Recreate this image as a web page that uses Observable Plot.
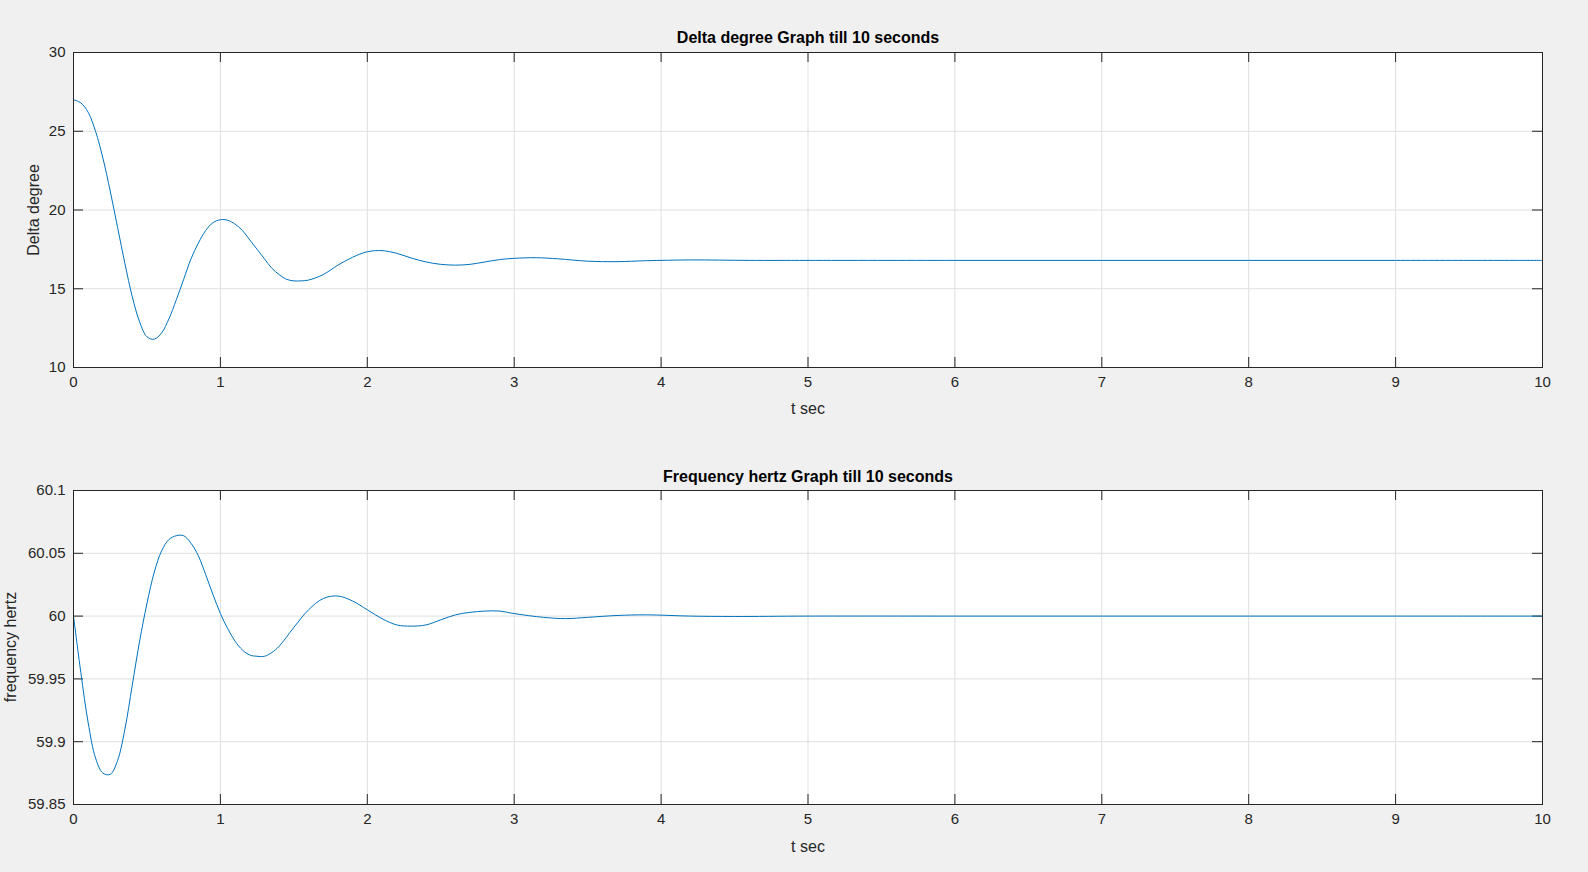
<!DOCTYPE html>
<html>
<head>
<meta charset="utf-8">
<script src="https://cdn.jsdelivr.net/npm/d3@7"></script>
<script src="https://cdn.jsdelivr.net/npm/@observablehq/plot@0.6"></script>
<style>
  html, body { margin: 0; background: #f0f0f0; font-family: "Liberation Sans", Arial, sans-serif; overflow: hidden; }
  #fig { position: relative; width: 1588px; height: 872px; overflow: hidden; }
  .panel { position: absolute; left: 0; width: 1588px; }
  .panel svg { max-width: none !important; width: 1588px; }
  .lbl { position: absolute; color: #262626; font-size: 16px; white-space: nowrap; }
  .ttl { position: absolute; color: #000; font-size: 16px; font-weight: bold; white-space: nowrap; }
</style>
</head>
<body>
<div id="fig"></div>
<script>
// delta degree vs time
const tDelta = [0,0.05,0.1,0.15,0.2,0.25,0.3,0.35,0.4,0.45,0.5,0.55,0.6,0.65,0.7,0.75,0.8,0.85,0.9,0.95,1.0,1.05,1.1,1.15,1.2,1.25,1.3,1.35,1.4,1.45,1.5,1.55,1.6,1.7,1.8,1.9,2.0,2.1,2.2,2.3,2.4,2.5,2.6,2.7,2.8,2.9,3.0,3.15,3.3,3.5,3.7,3.9,4.2,4.6,5,6,7,8,9,10];
const delta = [27.0,26.8,26.2,25.0,23.3,21.2,18.9,16.6,14.5,12.9,11.95,11.8,12.2,13.1,14.3,15.6,16.9,17.9,18.7,19.2,19.38,19.35,19.1,18.7,18.1,17.5,16.9,16.3,15.9,15.6,15.5,15.5,15.55,15.9,16.5,17.0,17.35,17.42,17.25,16.95,16.7,16.55,16.5,16.55,16.7,16.85,16.93,16.97,16.9,16.75,16.72,16.78,16.83,16.8,16.8,16.8,16.8,16.8,16.8,16.8];

// frequency hertz vs time
const tFreq = [0,0.05,0.1,0.15,0.2,0.25,0.3,0.35,0.4,0.45,0.5,0.55,0.6,0.65,0.7,0.75,0.8,0.85,0.9,0.95,1.0,1.05,1.1,1.15,1.2,1.25,1.3,1.35,1.4,1.5,1.6,1.7,1.8,1.9,2.0,2.1,2.2,2.3,2.4,2.5,2.6,2.7,2.8,2.9,3.0,3.2,3.35,3.5,3.7,3.9,4.2,4.5,5,6,7,8,9,10];
const freq = [60.0,59.955,59.915,59.887,59.875,59.874,59.885,59.91,59.945,59.98,60.01,60.035,60.052,60.061,60.064,60.064,60.058,60.048,60.033,60.017,60.002,59.99,59.98,59.973,59.969,59.968,59.968,59.971,59.976,59.991,60.005,60.014,60.016,60.012,60.005,59.998,59.993,59.992,59.993,59.997,60.001,60.003,60.004,60.004,60.002,59.999,59.998,59.999,60.0005,60.001,60.0,59.9997,60,60,60,60,60,60];

const xTicks = d3.range(0, 11);
const deltaTicks = [10, 15, 20, 25, 30];
const freqTicks = [59.85, 59.9, 59.95, 60, 60.05, 60.1];
const freqTickLabels = ["59.85", "59.9", "59.95", "60", "60.05", "60.1"];

const fig = d3.select("#fig");
const W = 1588, mL = 73, mR = 46;

function panel(tArr, vArr, yDomain, yTicks, yFmt, top, height, mT, mB) {
  const data = tArr.map((t, i) => ({t, v: vArr[i]}));
  const innerH = height - mT - mB, innerW = W - mL - mR;
  const chart = Plot.plot({
    width: W, height, marginLeft: mL, marginRight: mR, marginTop: mT, marginBottom: mB,
    style: {background: "transparent", fontFamily: "Liberation Sans, Arial, sans-serif", fontSize: "15px", color: "#262626"},
    x: {domain: [0, 10], ticks: xTicks, tickSize: 0, tickPadding: 9, label: null},
    y: {domain: yDomain, ticks: yTicks, tickFormat: yFmt, tickSize: 0, tickPadding: 8, label: null},
    marks: [
      Plot.frame({fill: "white"}),
      Plot.gridX(xTicks, {stroke: "#dfdfdf", strokeOpacity: 1}),
      Plot.gridY(yTicks, {stroke: "#dfdfdf", strokeOpacity: 1}),
      Plot.ruleX(xTicks, {stroke: "#262626", insetTop: innerH - 10}),
      Plot.ruleX(xTicks, {stroke: "#262626", insetBottom: innerH - 10}),
      Plot.ruleY(yTicks, {stroke: "#262626", insetRight: innerW - 10}),
      Plot.ruleY(yTicks, {stroke: "#262626", insetLeft: innerW - 10}),
      Plot.line(data, {x: "t", y: "v", stroke: "#0072bd", strokeWidth: 1, curve: "catmull-rom"}),
      Plot.frame({stroke: "#262626"})
    ]
  });
  fig.append("div").attr("class", "panel").style("top", top + "px").node().appendChild(chart);
}

panel(tDelta, delta, [10, 30], deltaTicks, d => d, 0, 430, 52, 63);
panel(tFreq, freq, [59.85, 60.1], freqTicks, (d, i) => freqTickLabels[i], 430, 442, 60, 68);

function text(cls, str, x, y, rot) {
  const el = fig.append("div").attr("class", cls).text(str)
    .style("left", x + "px").style("top", y + "px");
  el.style("transform", rot ? "translate(-50%,-50%) rotate(-90deg)" : "translate(-50%,-50%)");
}
text("ttl", "Delta degree Graph till 10 seconds", 808, 38);
text("lbl", "t sec", 808, 409);
text("lbl", "Delta degree", 34, 210, true);
text("ttl", "Frequency hertz Graph till 10 seconds", 808, 477);
text("lbl", "t sec", 808, 847);
text("lbl", "frequency hertz", 11, 647, true);
</script>
</body>
</html>
